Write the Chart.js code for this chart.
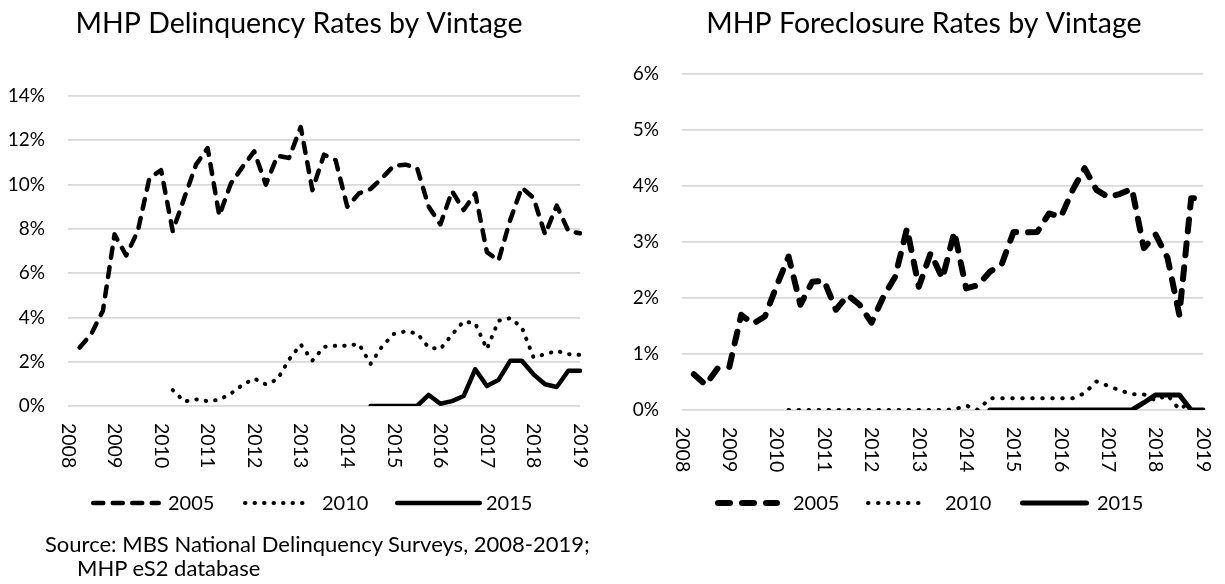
<!DOCTYPE html>
<html>
<head>
<meta charset="utf-8">
<script src="https://cdn.jsdelivr.net/npm/chart.js@4.4.1/dist/chart.umd.min.js"></script>
<style>
  html, body { margin: 0; padding: 0; background: #fff; }
  body { width: 1225px; height: 584px; position: relative; overflow: hidden; font-family: Lato, sans-serif; }
  canvas { position: absolute; top: 0; }
  #delinquencyChart { left: 0; }
  #foreclosureChart { left: 612px; }
  .source { position: absolute; font-size: 22px; line-height: 24px; color: #000; white-space: nowrap; }
</style>
</head>
<body>
<canvas id="delinquencyChart" width="612" height="584"></canvas>
<canvas id="foreclosureChart" width="613" height="584"></canvas>
<div class="source" style="left:45px; top:532px">Source: MBS National Delinquency Surveys, 2008-2019;</div>
<div class="source" style="left:77px; top:556px">MHP eS2 database</div>
<script>
// year ticks; each year is split in quarters (a value sits at the end of its quarter)
const yearTicks = ['2008', '2009', '2010', '2011', '2012', '2013', '2014', '2015', '2016', '2017', '2018', '2019'];
const quarters = [];
yearTicks.forEach((y, i) => {
    quarters.push(y);
    if (i < yearTicks.length - 1) quarters.push(y + ' Q1', y + ' Q2', y + ' Q3');
});

const vintages = ['2005', '2010', '2015'];

// delinquency rates (%), starting at the quarter given
const del2005Start = '2008 Q1';
const del2005 = [2.64, 3.25, 4.3, 7.75, 6.8, 7.9, 10.3, 10.65, 7.9, 9.4,
    10.9, 11.65, 8.6, 10.05, 10.8, 11.5, 10.0, 11.3, 11.2, 12.6,
    9.75, 11.35, 11.1, 9.0, 9.6, 9.8, 10.3, 10.85, 10.9, 10.75,
    9.0, 8.2, 9.7, 8.85, 9.6, 6.95, 6.57, 8.4, 9.87, 9.4,
    7.75, 9.05, 7.9, 7.8];
const del2010Start = '2010 Q1';
const del2010 = [0.72, 0.2, 0.3, 0.22, 0.28, 0.56, 0.95, 1.24, 0.98, 1.2,
    2.1, 2.78, 2.05, 2.67, 2.72, 2.72, 2.8, 1.9, 2.7, 3.25,
    3.37, 3.28, 2.64, 2.57, 3.22, 3.82, 3.73, 2.57, 3.85, 3.97,
    3.55, 2.2, 2.34, 2.49, 2.34, 2.31];
const del2015Start = '2014 Q2';
const del2015 = [0, 0, 0, 0, 0, 0.5, 0.1, 0.22, 0.45, 1.66,
    0.9, 1.18, 2.04, 2.04, 1.43, 0.98, 0.86, 1.59, 1.59];

// foreclosure rates (%)
const fc2005Start = '2008 Q1';
const fc2005 = [0.64, 0.45, 0.74, 0.77, 1.70, 1.54, 1.67, 2.22, 2.74, 1.88,
    2.29, 2.31, 1.79, 2.05, 1.88, 1.56, 2.02, 2.38, 3.24, 2.2,
    2.8, 2.35, 3.18, 2.17, 2.23, 2.47, 2.6, 3.18, 3.17, 3.18,
    3.51, 3.45, 3.93, 4.32, 3.93, 3.8, 3.86, 3.95, 2.89, 3.13,
    2.72, 1.7, 3.78, 3.78];
const fc2010Start = '2010 Q1';
const fc2010 = [0, 0, 0, 0, 0, 0, 0, 0, 0, 0,
    0, 0, 0, 0, 0.01, 0.08, 0, 0.21, 0.21, 0.21,
    0.21, 0.21, 0.21, 0.21, 0.21, 0.3, 0.51, 0.43, 0.35, 0.28,
    0.28, 0.17, 0.27, 0.01, 0.15];
const fc2015Start = '2014 Q2';
const fc2015 = [0, 0, 0, 0, 0, 0, 0, 0, 0, 0,
    0, 0, 0, 0.13, 0.27, 0.27, 0.27, 0, 0];

function onQuarters(start, values) {
    const out = new Array(quarters.length).fill(null);
    const s = quarters.indexOf(start);
    values.forEach((v, i) => out[s + i] = v);
    return out;
}

Chart.defaults.font.family = 'Lato';
Chart.defaults.font.size = 19;
Chart.defaults.color = '#000';

const decor = {
    id: 'decor',
    afterDraw(chart, args, opts) {
        const ctx = chart.ctx;
        const xs = chart.scales.x;
        const area = chart.chartArea;
        ctx.save();
        ctx.fillStyle = '#000';

        ctx.font = opts.titleFont;
        ctx.textAlign = 'center';
        ctx.textBaseline = 'alphabetic';
        ctx.fillText(opts.title, opts.titleX, opts.titleY);

        // year labels, turned to read top to bottom
        ctx.font = '19.5px Lato';
        quarters.forEach((q, i) => {
            if (!yearTicks.includes(q)) return;
            ctx.save();
            ctx.translate(xs.getPixelForValue(i), area.bottom + opts.labelGap);
            ctx.rotate(Math.PI / 2);
            ctx.textAlign = 'left';
            ctx.textBaseline = 'middle';
            ctx.fillText(q, 0, 0);
            ctx.restore();
        });

        // legend
        ctx.font = '20px Lato';
        ctx.textAlign = 'left';
        ctx.textBaseline = 'middle';
        chart.data.datasets.forEach((ds, i) => {
            const it = opts.legend[i];
            const w = ds.borderWidth;
            ctx.save();
            ctx.strokeStyle = ds.borderColor;
            ctx.lineWidth = w;
            ctx.lineCap = 'round';
            ctx.setLineDash(ds.borderDash || []);
            ctx.beginPath();
            ctx.moveTo(it.x0 + w / 2, opts.legendY);
            ctx.lineTo(it.x1 - w / 2, opts.legendY);
            ctx.stroke();
            ctx.restore();
            ctx.fillText(ds.label, it.tx, opts.legendY + 1);
        });
        ctx.restore();
    }
};

function makeChart(id, series, styles, yMax, yStep, pad, decorOpts) {
    const datasets = series.map((data, i) => ({
        label: vintages[i],
        data: data,
        borderColor: '#000',
        borderWidth: styles[i].width,
        borderDash: styles[i].dash,
        borderCapStyle: 'round',
        borderJoinStyle: 'round',
        pointRadius: 0,
        tension: 0,
        spanGaps: false
    }));
    return new Chart(document.getElementById(id), {
        type: 'line',
        data: { labels: quarters, datasets: datasets },
        plugins: [decor],
        options: {
            responsive: false,
            animation: false,
            layout: { padding: pad },
            plugins: {
                legend: { display: false },
                tooltip: { enabled: false },
                decor: decorOpts
            },
            scales: {
                x: {
                    type: 'category',
                    offset: false,
                    grid: { display: false },
                    border: { display: false },
                    ticks: { display: false },
                    afterFit: s => { s.height = 0; }
                },
                y: {
                    min: 0,
                    max: yMax,
                    grid: { color: '#d9d9d9', lineWidth: 1.7, drawTicks: false },
                    border: { display: false },
                    ticks: { stepSize: yStep, padding: 23, callback: v => v + '%' },
                    afterFit: s => { s.width = 60; }
                }
            }
        }
    });
}

makeChart('delinquencyChart',
    [onQuarters(del2005Start, del2005), onQuarters(del2010Start, del2010), onQuarters(del2015Start, del2015)],
    [{ width: 4.5, dash: [10, 9.5] }, { width: 4, dash: [0.5, 9] }, { width: 4.5, dash: [] }],
    14, 2,
    { top: 96, left: 8, right: 32, bottom: 178 },
    {
        title: 'MHP Delinquency Rates by Vintage', titleFont: '28.5px Lato', titleX: 299, titleY: 33,
        labelGap: 17, legendY: 503,
        legend: [{ x0: 91, x1: 161, tx: 168 }, { x0: 243, x1: 309, tx: 322 }, { x0: 395, x1: 482, tx: 486 }]
    });

makeChart('foreclosureChart',
    [onQuarters(fc2005Start, fc2005), onQuarters(fc2010Start, fc2010), onQuarters(fc2015Start, fc2015)],
    [{ width: 6, dash: [12, 12] }, { width: 4, dash: [0.5, 9.5] }, { width: 5, dash: [] }],
    6, 1,
    { top: 74, left: 10, right: 22, bottom: 174 },
    {
        title: 'MHP Foreclosure Rates by Vintage', titleFont: '28.5px Lato', titleX: 312, titleY: 33,
        labelGap: 17, legendY: 503,
        legend: [{ x0: 103, x1: 168, tx: 181 }, { x0: 254, x1: 316, tx: 333 }, { x0: 408, x1: 477, tx: 485 }]
    });
</script>
</body>
</html>
